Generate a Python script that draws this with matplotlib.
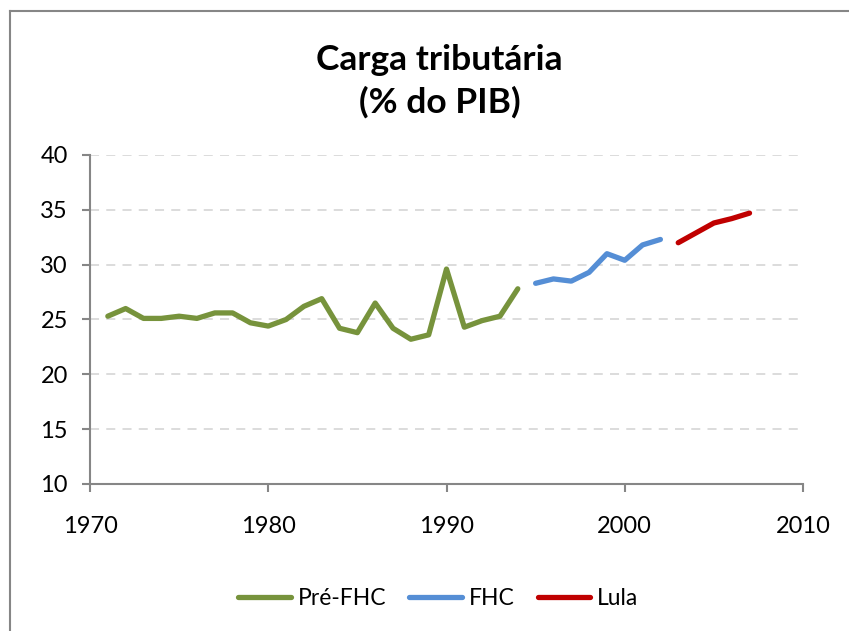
import matplotlib
matplotlib.use('Agg')
import matplotlib.pyplot as plt
from matplotlib.lines import Line2D

plt.rcParams['font.family'] = ['Lato', 'DejaVu Sans']

# dados
anos_pre = list(range(1971, 1995))
pre_fhc = [25.3, 26.0, 25.1, 25.1, 25.3, 25.1, 25.6, 25.6, 24.7, 24.4, 25.0, 26.2,
           26.9, 24.2, 23.8, 26.5, 24.2, 23.2, 23.6, 29.6, 24.3, 24.9, 25.3, 27.8]
anos_fhc = list(range(1995, 2003))
fhc = [28.3, 28.7, 28.5, 29.3, 31.0, 30.4, 31.8, 32.3]
anos_lula = list(range(2003, 2008))
lula = [32.0, 32.9, 33.8, 34.2, 34.7]

xticks = [1970, 1980, 1990, 2000, 2010]
yticks = [10, 15, 20, 25, 30, 35, 40]

fig = plt.figure(figsize=(8.49, 6.31), dpi=100)
ax = fig.add_axes([90/849, 1-484/631, (803-90)/849, (484-155)/631])

# moldura (só aparece a borda de cima e a da esquerda)
x0, y0 = 10/849, 1-10.5/631
fig.lines.append(Line2D([x0, x0], [0, y0], transform=fig.transFigure,
                        color='#868686', lw=1.5))
fig.lines.append(Line2D([x0, 1], [y0, y0], transform=fig.transFigure,
                        color='#868686', lw=1.5))

ax.plot(anos_pre, pre_fhc, color='#77933C', lw=3.8, solid_capstyle='round',
        solid_joinstyle='round', label='Pré-FHC')
ax.plot(anos_fhc, fhc, color='#558ED5', lw=3.8, solid_capstyle='round',
        solid_joinstyle='round', label='FHC')
ax.plot(anos_lula, lula, color='#C00000', lw=3.8, solid_capstyle='round',
        solid_joinstyle='round', label='Lula')

ax.set_xlim(1970, 2010)
ax.set_ylim(10, 40)
ax.set_xticks(xticks)
ax.set_yticks(yticks)
ax.grid(axis='y', color='#D9D9D9', linestyle=(0, (5, 4)), linewidth=1.3)
ax.set_axisbelow(True)

for s in ['top', 'right']:
    ax.spines[s].set_visible(False)
for s in ['left', 'bottom']:
    ax.spines[s].set_color('#868686')
    ax.spines[s].set_linewidth(1.5)
ax.tick_params(axis='both', colors='#868686', width=1.5, length=6, labelsize=17,
               labelcolor='black')
ax.tick_params(axis='x', pad=17)
ax.tick_params(axis='y', pad=10)

fig.text(0.518, 0.871, 'Carga tributária\n(% do PIB)', ha='center', va='center',
         fontsize=25.5, fontweight='bold', linespacing=1.4)

fig.legend(loc='center', bbox_to_anchor=(0.5165, 0.052), ncol=3, frameon=False,
           fontsize=16.5, handlelength=2.3, handletextpad=0.3, columnspacing=1.0)

plt.savefig('out.png', dpi=100)
plt.close()
